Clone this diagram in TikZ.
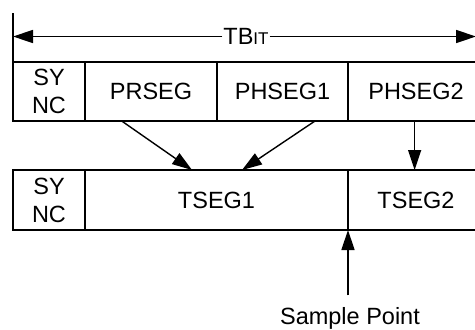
\documentclass[tikz,border=0pt]{standalone}
\usepackage{fontspec}
\setmainfont{Liberation Sans}
\usetikzlibrary{arrows.meta,calc}
\begin{document}
\begin{tikzpicture}[x=1pt,y=-1pt,line width=1.4pt,
  cell/.style={draw,inner sep=0pt,outer sep=0pt,align=center,font=\fontsize{23.5}{28}\selectfont},
  lbl/.style={inner sep=0pt,outer sep=0pt,font=\fontsize{23.5}{28}\selectfont},
  arr/.style={-{Triangle[length=20pt,width=13pt]}}]
\useasboundingbox (0,0) rectangle (475,330);
\clip (0,0) rectangle (475,330);
% row 1
\node[cell,minimum width=72pt,minimum height=59pt] (s1) at (49,91.5) {SY\\NC};
\node[cell,minimum width=132pt,minimum height=59pt] (prseg) at (151,91.5) {PRSEG};
\node[cell,minimum width=131pt,minimum height=59pt] (ph1) at (282.5,91.5) {PHSEG1};
\node[cell,minimum width=136pt,minimum height=59pt] (ph2) at (416,91.5) {PHSEG2};
% row 2
\node[cell,minimum width=72pt,minimum height=60pt] (s2) at (49,200) {SY\\NC};
\node[cell,minimum width=263pt,minimum height=60pt] (t1) at (216.5,200) {TSEG1};
\node[cell,minimum width=136pt,minimum height=60pt] (t2) at (416,200) {TSEG2};
% TBit
\node[lbl,inner xsep=1pt] (tbit) at (246,36.5) {TB\fontsize{17}{20}\selectfont IT};
\coordinate (top) at (13,13);
\coordinate (lft) at (13,36.5);
\coordinate (rgt) at (476,36.5);
\draw (top) -- (s1.north west);
\draw[arr] (tbit.west) -- (lft);
\draw[arr] (tbit.east) -- (rgt);
% arrows
\draw[arr] ($(prseg.south west)!0.278!(prseg.south east)$) -- ($(t1.north west)!0.407!(t1.north east)$);
\draw[arr] ($(ph1.south west)!0.748!(ph1.south east)$) -- ($(t1.north west)!0.597!(t1.north east)$);
\draw[arr] ($(ph2.south west)!0.49!(ph2.south east)$) -- ($(t2.north west)!0.49!(t2.north east)$);
% sample point
\node[lbl,anchor=base] (sp) at (350,324.5) {Sample Point};
\draw[arr] ([xshift=-2pt,yshift=12pt]sp.north) -- (t1.south east);
\end{tikzpicture}
\end{document}
